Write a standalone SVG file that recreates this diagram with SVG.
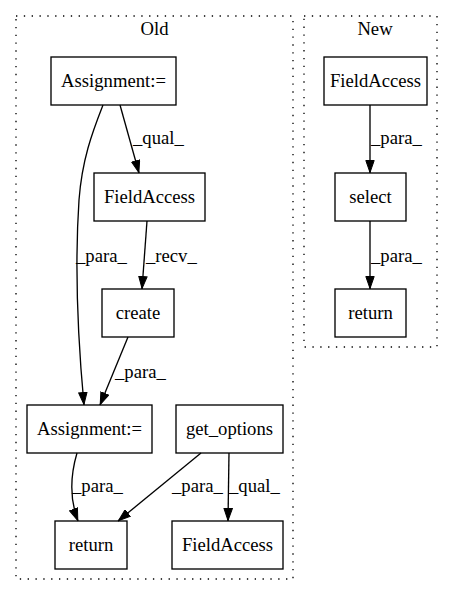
<svg xmlns="http://www.w3.org/2000/svg" width="453" height="596" viewBox="0 0 453 596">
<defs>
<marker id="ah" viewBox="0 0 13 9.4" refX="13" refY="4.7" markerWidth="13" markerHeight="9.4" markerUnits="userSpaceOnUse" orient="auto">
<path d="M0.5,0.5 L12.5,4.7 L0.5,8.9 Z" fill="#000" stroke="#000" stroke-width="1"/>
</marker>
</defs>
<style>
text{font-family:"Liberation Serif","Times New Roman",Times,serif;font-size:18.67px;fill:#000}
.n rect{fill:none;stroke:#000;stroke-width:1.33}
.n text{text-anchor:middle}
.cl{fill:none;stroke:#000;stroke-width:1.33;stroke-dasharray:1.33,6.5}
.e path{fill:none;stroke:#000;stroke-width:1.33;marker-end:url(#ah)}
.lab{text-anchor:start}
</style>
<rect width="453" height="596" fill="#fff"/>
<g id="cluster_old">
<rect class="cl" x="16" y="16" width="277" height="563"/>
<text x="154.5" y="35" text-anchor="middle">Old</text>
</g>
<g id="cluster_new">
<rect class="cl" x="304" y="16" width="133" height="331"/>
<text x="375" y="35" text-anchor="middle">New</text>
</g>
<g id="edges" class="e">
<path d="M120,105 L139,173"/>
<text class="lab" x="133" y="144">_qual_</text>
<path d="M103,105 C92,133 82,160 79,200 C75,260 77,330 84,405"/>
<text class="lab" x="76" y="262">_para_</text>
<path d="M147,221 L142,289"/>
<text class="lab" x="146" y="262">_recv_</text>
<path d="M128,337 L100,405"/>
<text class="lab" x="115" y="378">_para_</text>
<path d="M77,453 C72,470 68,495 78,521"/>
<text class="lab" x="72" y="492">_para_</text>
<path d="M201,453 L118,521"/>
<text class="lab" x="172" y="492">_para_</text>
<path d="M229,453 L228,521"/>
<text class="lab" x="229" y="492">_qual_</text>
<path d="M370,105 L370,173"/>
<text class="lab" x="371" y="144">_para_</text>
<path d="M370,221 L370,289"/>
<text class="lab" x="371" y="262">_para_</text>
</g>
<g id="assign1" class="n"><rect x="51" y="57" width="125" height="48"/><text x="113.5" y="86.5">Assignment:=</text></g>
<g id="fieldaccess1" class="n"><rect x="94" y="173" width="111" height="48"/><text x="149.5" y="202.5">FieldAccess</text></g>
<g id="create" class="n"><rect x="102" y="289" width="72" height="48"/><text x="138" y="318.5">create</text></g>
<g id="assign2" class="n"><rect x="27" y="405" width="125" height="48"/><text x="89.5" y="434.5">Assignment:=</text></g>
<g id="get_options" class="n"><rect x="176" y="405" width="107" height="48"/><text x="229.5" y="434.5">get_options</text></g>
<g id="return_old" class="n"><rect x="55" y="521" width="72" height="48"/><text x="91" y="550.5">return</text></g>
<g id="fieldaccess2" class="n"><rect x="172" y="521" width="111" height="48"/><text x="227.5" y="550.5">FieldAccess</text></g>
<g id="fieldaccess_new" class="n"><rect x="324" y="57" width="103" height="48"/><text x="375.5" y="86.5">FieldAccess</text></g>
<g id="select" class="n"><rect x="335" y="173" width="71" height="48"/><text x="370.5" y="202.5">select</text></g>
<g id="return_new" class="n"><rect x="335" y="289" width="71" height="48"/><text x="370.5" y="318.5">return</text></g>
</svg>
